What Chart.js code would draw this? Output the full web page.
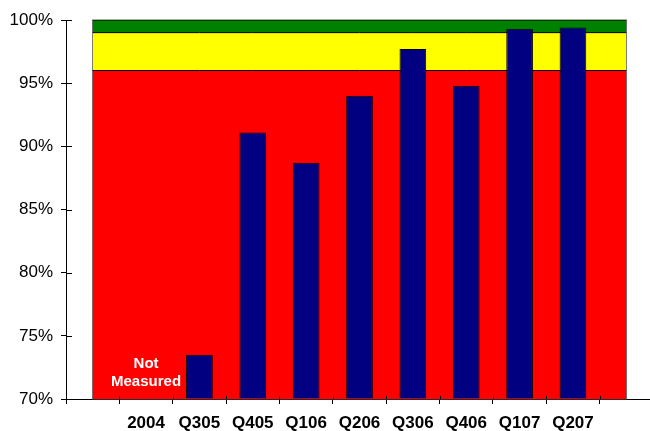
<!DOCTYPE html>
<html lang="en">
<head>
    <meta charset="UTF-8">
    <title>Quarterly score</title>
    <script src="https://cdn.jsdelivr.net/npm/chart.js"></script>
    <style>
        html, body { margin: 0; padding: 0; background: #fff; }
        .wrap { width: 650px; height: 431px; overflow: hidden; }
    </style>
</head>
<body>
    <div class="wrap">
        <canvas id="scoreChart" width="660" height="431"></canvas>
    </div>
    <script>
        // blank categories at both ends so the bands start/stop at the category centres
        const categories = ["", "2004", "Q305", "Q405", "Q106", "Q206", "Q306", "Q406", "Q107", "Q207", ""];
        const scores = [null, null, 73.5, 91.1, 88.7, 94.0, 97.7, 94.8, 99.3, 99.4, null];
        const redLimit = categories.map(() => 96);
        const yellowLimit = categories.map(() => 99);
        const greenLimit = categories.map(() => 100);
        const yTicks = [70, 75, 80, 85, 90, 95, 100];
        const noDataNote = ["Not", "Measured"];

        const FONT = "Arial, 'Liberation Sans', sans-serif";

        // outline round the bands, the "Not Measured" note and the inner half of the cross ticks
        const extras = {
            id: "extras",
            beforeDatasetsDraw(chart) {
                const { ctx, scales: { x, y } } = chart;
                ctx.save();
                ctx.strokeStyle = "#555";
                ctx.lineWidth = 1;
                ctx.strokeRect(x.getPixelForValue(0), y.getPixelForValue(100),
                    x.getPixelForValue(categories.length - 1) - x.getPixelForValue(0),
                    y.getPixelForValue(70) - y.getPixelForValue(100));
                ctx.restore();
            },
            afterDatasetsDraw(chart) {
                const { ctx, scales: { x, y } } = chart;
                ctx.save();
                ctx.fillStyle = "#fff";
                ctx.font = "bold 15px " + FONT;
                ctx.textAlign = "center";
                ctx.textBaseline = "middle";
                const cx = x.getPixelForValue(1);
                ctx.fillText(noDataNote[0], cx, y.getPixelForValue(72.8));
                ctx.fillText(noDataNote[1], cx, y.getPixelForValue(71.35));

                ctx.strokeStyle = "#000";
                ctx.lineWidth = 1;
                ctx.beginPath();
                yTicks.forEach(v => {
                    const py = Math.round(y.getPixelForValue(v)) + 0.5;
                    ctx.moveTo(x.left, py);
                    ctx.lineTo(x.left + 6, py);
                });
                for (let i = 1; i < categories.length; i++) {
                    const px = Math.round((x.getPixelForValue(i - 1) + x.getPixelForValue(i)) / 2) + 0.5;
                    ctx.moveTo(px, y.bottom);
                    ctx.lineTo(px, y.bottom - 3);
                }
                ctx.stroke();
                ctx.restore();
            }
        };

        const band = (label, data, color, fill) => ({
            type: "line",
            label: label,
            data: data,
            borderColor: "#000",
            borderWidth: 1,
            backgroundColor: color,
            pointRadius: 0,
            fill: fill,
            order: 1
        });

        new Chart(document.getElementById("scoreChart"), {
            type: "bar",
            data: {
                labels: categories,
                datasets: [
                    {
                        label: "Score",
                        data: scores,
                        base: 70,
                        backgroundColor: "#000080",
                        borderColor: "#000",
                        borderWidth: 1,
                        barPercentage: 0.5,
                        categoryPercentage: 1,
                        order: 0
                    },
                    band("red", redLimit, "#ff0000", "start"),
                    band("yellow", yellowLimit, "#ffff00", "-1"),
                    band("green", greenLimit, "#008000", "-1")
                ]
            },
            options: {
                responsive: false,
                animation: false,
                layout: { padding: { top: 20, right: 7, left: 0, bottom: 0 } },
                plugins: {
                    legend: { display: false },
                    tooltip: { enabled: false },
                    title: { display: false }
                },
                scales: {
                    x: {
                        offset: true,
                        grid: { offset: true, drawOnChartArea: false, drawTicks: true, tickLength: 5, color: "#000" },
                        border: { color: "#000", width: 1 },
                        ticks: { color: "#000", font: { family: FONT, size: 17, weight: "bold" }, padding: 9, maxRotation: 0, autoSkip: false },
                        afterFit(scale) { scale.height = 32; }
                    },
                    y: {
                        min: 70,
                        max: 100,
                        afterBuildTicks(scale) { scale.ticks = yTicks.map(v => ({ value: v })); },
                        grid: { drawOnChartArea: false, drawTicks: true, tickLength: 5, color: "#000" },
                        border: { color: "#000", width: 1 },
                        ticks: { color: "#000", font: { family: FONT, size: 17 }, padding: 8, callback: v => v + "%" },
                        afterFit(scale) { scale.width = 66; }
                    }
                }
            },
            plugins: [extras]
        });
    </script>
</body>
</html>
